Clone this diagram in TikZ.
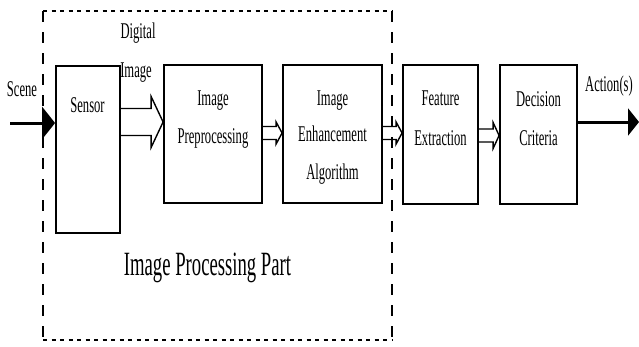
\documentclass[tikz,border=0pt]{standalone}
\usepackage{fontspec}
\setmainfont{Liberation Serif}
\newfontfamily\condf[FakeStretch=0.56]{Liberation Serif}
\newfontfamily\condbig[FakeStretch=0.55]{Liberation Serif}
\usetikzlibrary{arrows.meta,calc}
\newcommand\hollowarr[6]{%
 \pgfmathsetmacro\hyA{#3-#4}\pgfmathsetmacro\hyB{#3+#4}%
 \pgfmathsetmacro\hyC{#3-#5}\pgfmathsetmacro\hyD{#3+#5}%
 \draw[harr] (#1.east |- 0,\hyA) -- ($(#2.west |- 0,\hyA)+(-#6,0)$) -- ($(#2.west |- 0,\hyC)+(-#6,0)$) -- (#2.west |- 0,#3) -- ($(#2.west |- 0,\hyD)+(-#6,0)$) -- ($(#2.west |- 0,\hyB)+(-#6,0)$) -- (#1.east |- 0,\hyB);}
\begin{document}
\begin{tikzpicture}[x=1pt,y=-1pt,
  blk/.style={draw,line width=1.8pt,inner sep=0pt},
  txt/.style={font=\condf\fontsize{22.5}{22.5}\selectfont,inner sep=0pt,anchor=base},
  bigtxt/.style={font=\condbig\fontsize{34}{34}\selectfont,inner sep=0pt,anchor=base},
  harr/.style={line width=1.4pt,line join=miter},
  hdash/.style={line width=1.5pt,dash pattern=on 4pt off 4.5pt},
  vdash/.style={line width=1.5pt,dash pattern=on 11pt off 10pt},
  thick arrow/.style={line width=3pt}]
\fill[white] (0,0) rectangle (639,346);
\useasboundingbox (0,0) rectangle (639,346);
% dashed image-processing region
\coordinate (dTL) at (43,11);
\coordinate (dTR) at (392,11);
\coordinate (dBL) at (43,340);
\coordinate (dBR) at (392,340);
\draw[hdash] (dTL) -- (dTR);
\draw[hdash] (dBL) -- (dBR);
\draw[vdash] (dTL) -- (dBL);
\draw[vdash] (dTR) -- (dBR);
% blocks
\node[blk,minimum width=64pt,minimum height=167pt] (sensor) at (88,149.5) {};
\node[blk,minimum width=98pt,minimum height=138pt] (pre) at (213,134) {};
\node[blk,minimum width=99pt,minimum height=138pt] (enh) at (332.5,134) {};
\node[blk,minimum width=75pt,minimum height=139pt] (feat) at (440.5,134.5) {};
\node[blk,minimum width=77pt,minimum height=139pt] (dec) at (538.5,134.5) {};
% block texts
\node[txt] (tsensor) at (87.5,112) {Sensor};
\node[txt] (tpre1) at (213,105) {Image};
\node[txt] (tpre2) at (213,143) {Preprocessing};
\node[txt] (tenh1) at (332.5,105) {Image};
\node[txt] (tenh2) at (332.5,141) {Enhancement};
\node[txt] (tenh3) at (332.5,179) {Algorithm};
\node[txt] (tfeat1) at (440.5,105) {Feature};
\node[txt] (tfeat2) at (440.5,145) {Extraction};
\node[txt] (tdec1) at (538.5,106) {Decision};
\node[txt] (tdec2) at (538.5,145) {Criteria};
% outer labels
\node[txt] (lscene) at (22,96) {Scene};
\node[txt] (ldig1) at (138,38) {Digital};
\node[txt] (ldig2) at (136,77) {Image};
\node[txt] (lact) at (609,91) {Action(s)};
\node[bigtxt] (lipp) at (207.5,275) {Image Processing Part};
% input and output arrows
\coordinate (sceneStart) at (10,123);
\coordinate (actEnd) at (639,122);
\draw[thick arrow,-{Triangle[length=13pt,width=32pt]}] (sceneStart) -- (sensor.west |- sceneStart);
\draw[thick arrow,-{Triangle[length=11pt,width=27pt]}] (dec.east |- actEnd) -- (actEnd);
% hollow double arrows
\hollowarr{sensor}{pre}{122}{13.5}{25.5}{12}
\hollowarr{pre}{enh}{133}{6.5}{11}{6}
\hollowarr{enh}{feat}{133}{6.5}{11}{6}
\hollowarr{feat}{dec}{135.5}{6.5}{13}{6}
\end{tikzpicture}
\end{document}
